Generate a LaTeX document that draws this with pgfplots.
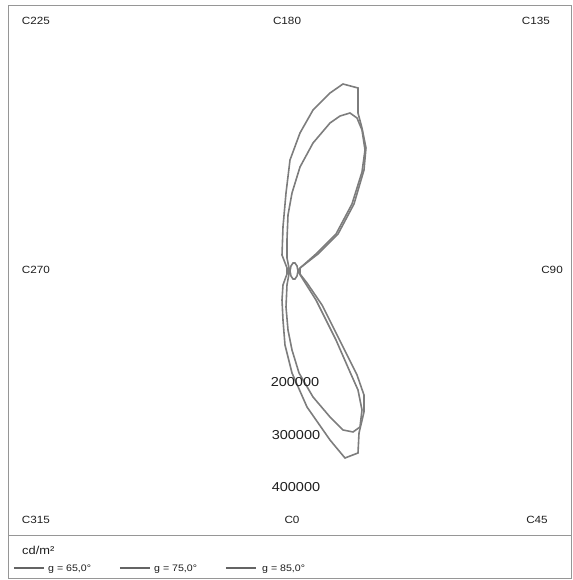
\documentclass[border=0pt]{standalone}
\usepackage{fontspec}
\setmainfont{Liberation Sans}[FakeStretch=1.12]
\usepackage{pgfplots}
\pgfplotsset{compat=1.18}
\definecolor{curve}{RGB}{125,125,125}
\definecolor{framec}{RGB}{150,150,150}
\definecolor{txt}{RGB}{30,30,30}
\begin{document}
\begin{tikzpicture}
\begin{axis}[
  scale only axis, width=573bp, height=580bp,
  xmin=-544444, xmax=516667, ymin=-572222, ymax=501852,
  axis lines=none, ticks=none, clip=false,
]
\path (rel axis cs:0,0) rectangle (rel axis cs:1,1);
% g = 85
\addplot[curve, line width=1.6bp] coordinates {
(11100,5600) (44400,31500) (81500,68500) (111100,124100) (129600,187000) (133300,227800)
(125900,264800) (118500,292600) (118500,338900) (90700,346300) (66700,329600) (35200,298100)
(11100,255600) (-7400,205600) (-14800,144400) (-20400,81500) (-22200,29600) (-13000,5600)
(-13000,-5600) (-20400,-25900) (-22200,-53700) (-20400,-90700) (-16700,-137000) (-3700,-188900)
(24100,-251900) (66700,-313000) (94400,-346300) (118500,-337000) (120400,-300000) (129600,-261100)
(129600,-229600) (116700,-192600) (88900,-137000) (51900,-63000) (24100,-22200) (11100,-5600)
(11100,5600)};
% g = 75
\addplot[curve, line width=1.6bp] coordinates {
(9300,3700) (40700,31500) (77800,68500) (107400,124100) (125900,183300) (131500,224100)
(125900,261100) (116700,283300) (103700,292600) (85200,287000) (66700,274100) (35200,237000)
(11100,192600) (-3700,144400) (-11100,103700) (-13000,57400) (-13000,24100) (-9300,5600)
(-9300,-5600) (-13000,-25900) (-14800,-66700) (-11100,-109300) (-3700,-146300) (9300,-188900)
(35200,-233300) (66700,-270400) (90700,-294400) (109300,-298100) (122200,-288900) (125900,-257400)
(118500,-220400) (103700,-187000) (77800,-127800) (40700,-53700) (18500,-18500) (9300,-3700)
(9300,3700)};
% g = 65
\addplot[curve, line width=1.6bp] coordinates {
(7400,0) (5600,9300) (1900,14800) (-1900,14800) (-5600,9300) (-7400,0)
(-5600,-9300) (-1900,-14800) (1900,-14800) (5600,-9300) (7400,0)};
% frame
\draw[framec, line width=0.8bp] (rel axis cs:0.01396,0.00345) rectangle (rel axis cs:0.99651,0.99138);
\draw[framec, line width=0.6bp] (rel axis cs:0.01396,0.07759) -- (rel axis cs:0.99651,0.07759);
% C labels
\tikzset{clab/.style={text=txt, font=\fontsize{10.5}{12}\selectfont, inner sep=0pt}}
\node[clab] at (rel axis cs:0.0628,0.9638) {C225};
\node[clab] at (rel axis cs:0.5009,0.9638) {C180};
\node[clab] at (rel axis cs:0.9354,0.9638) {C135};
\node[clab] at (rel axis cs:0.0628,0.5345) {C270};
\node[clab] at (rel axis cs:0.9634,0.5345) {C90};
\node[clab] at (rel axis cs:0.0628,0.1034) {C315};
\node[clab] at (rel axis cs:0.5096,0.1034) {C0};
\node[clab] at (rel axis cs:0.9372,0.1034) {C45};
% radial labels
\tikzset{rlab/.style={text=txt, font=\fontsize{13}{15}\selectfont, inner sep=0pt}}
\node[rlab] at (axis cs:1852,-205000) {200000};
\node[rlab] at (axis cs:3700,-303700) {300000};
\node[rlab] at (axis cs:3700,-400000) {400000};
% unit and legend
\node[text=txt, font=\fontsize{11.5}{13}\selectfont, anchor=west, inner sep=0pt] at (rel axis cs:0.0384,0.0517) {cd/m²};
\draw[curve!80!black, line width=1.6bp] (rel axis cs:0.0244,0.0207) -- (rel axis cs:0.0768,0.0207);
\draw[curve!80!black, line width=1.6bp] (rel axis cs:0.2094,0.0207) -- (rel axis cs:0.2618,0.0207);
\draw[curve!80!black, line width=1.6bp] (rel axis cs:0.3944,0.0207) -- (rel axis cs:0.4468,0.0207);
\tikzset{leg/.style={text=txt, font=\fontsize{9.5}{11}\selectfont, anchor=west, inner sep=0pt}}
\node[leg] at (rel axis cs:0.0838,0.0190) {g = 65,0°};
\node[leg] at (rel axis cs:0.2688,0.0190) {g = 75,0°};
\node[leg] at (rel axis cs:0.4572,0.0190) {g = 85,0°};
\end{axis}
\end{tikzpicture}
\end{document}
